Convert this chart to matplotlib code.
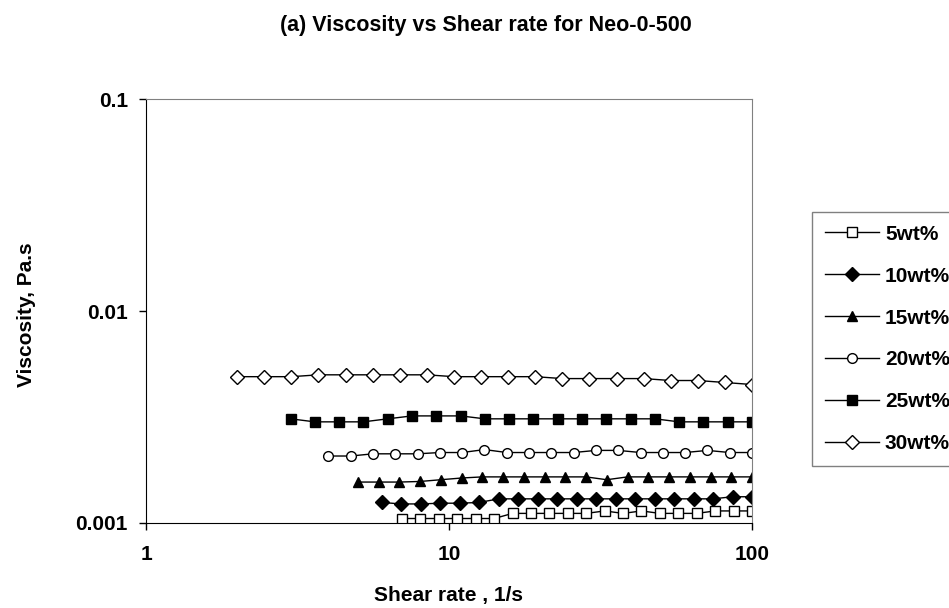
import matplotlib
matplotlib.use('Agg')
import matplotlib.pyplot as plt
import numpy as np

plt.rcParams['font.family'] = ['Liberation Sans', 'DejaVu Sans']
plt.rcParams['font.weight'] = 'bold'

labels = ['5wt%', '10wt%', '15wt%', '20wt%', '25wt%', '30wt%']
start_rate = [7, 6, 5, 4, 3, 2]

visc_5 = [0.00105, 0.00105, 0.00105, 0.00105, 0.00105, 0.00105, 0.00111, 0.00111, 0.00111, 0.00111,
          0.00111, 0.00114, 0.00111, 0.00114, 0.00111, 0.00111, 0.00111, 0.00114, 0.00114, 0.00114]
visc_10 = [0.00125, 0.00123, 0.00123, 0.00124, 0.00124, 0.00125, 0.0013, 0.0013, 0.0013, 0.0013,
           0.0013, 0.0013, 0.0013, 0.0013, 0.0013, 0.0013, 0.0013, 0.0013, 0.00133, 0.00133]
visc_15 = [0.00156, 0.00156, 0.00156, 0.00157, 0.0016, 0.00163, 0.00165, 0.00165, 0.00165, 0.00165,
           0.00165, 0.00165, 0.0016, 0.00165, 0.00165, 0.00165, 0.00165, 0.00165, 0.00165, 0.00165]
visc_20 = [0.00207, 0.00207, 0.00212, 0.00212, 0.00212, 0.00215, 0.00215, 0.00222, 0.00215, 0.00215,
           0.00215, 0.00215, 0.0022, 0.0022, 0.00215, 0.00215, 0.00215, 0.0022, 0.00215, 0.00215]
visc_25 = [0.0031, 0.003, 0.003, 0.003, 0.0031, 0.0032, 0.0032, 0.0032, 0.0031, 0.0031,
           0.0031, 0.0031, 0.0031, 0.0031, 0.0031, 0.0031, 0.003, 0.003, 0.003, 0.003]
visc_30 = [0.0049, 0.0049, 0.0049, 0.005, 0.005, 0.005, 0.005, 0.005, 0.0049, 0.0049,
           0.0049, 0.0049, 0.0048, 0.0048, 0.0048, 0.0048, 0.0047, 0.0047, 0.0046, 0.0045]
all_visc = [visc_5, visc_10, visc_15, visc_20, visc_25, visc_30]

markers = ['s', 'D', '^', 'o', 's', 'D']
filled = [False, True, True, False, True, False]

fig = plt.figure(figsize=(9.49, 6.08), dpi=100)
ax = fig.add_axes([146/949, 1-523/608, 606/949, 424/608])

for i in range(len(labels)):
    # shear rate points are log spaced from start to 100
    rates = np.logspace(np.log10(start_rate[i]), 2, len(all_visc[i]))
    ax.plot(rates, all_visc[i], color='black', lw=1.0, marker=markers[i], ms=7,
            mfc='black' if filled[i] else 'white', mec='black', mew=1.0, label=labels[i])

ax.set_xscale('log')
ax.set_yscale('log')
ax.set_xlim(1, 100)
ax.set_ylim(0.001, 0.1)
ax.set_xticks([1, 10, 100])
ax.set_xticklabels(['1', '10', '100'])
ax.set_yticks([0.001, 0.01, 0.1])
ax.set_yticklabels(['0.001', '0.01', '0.1'])
ax.minorticks_off()
ax.tick_params(labelsize=15, length=5, width=1, direction='out', pad=8)
ax.tick_params(axis='x', pad=11)
for sp in ['top', 'right']:
    ax.spines[sp].set_color('#808080')

fig.text(486/949, 1-25/608, '(a) Viscosity vs Shear rate for Neo-0-500', ha='center', va='center',
         fontsize=15.5, fontweight='bold')
fig.text(449/949, 1-596/608, 'Shear rate , 1/s', ha='center', va='center', fontsize=15, fontweight='bold')
fig.text(27/949, 1-315/608, 'Viscosity, Pa.s', ha='center', va='center', rotation=90,
         fontsize=15, fontweight='bold')

leg = ax.legend(loc='center left', bbox_to_anchor=(812/949, 1-339/608), bbox_transform=fig.transFigure,
                fontsize=15, frameon=True, fancybox=False, edgecolor='#808080', framealpha=1,
                handlelength=2.6, handletextpad=0.3, labelspacing=1.1, borderpad=0.6, borderaxespad=0)
leg.get_frame().set_linewidth(1.0)

plt.savefig('out.png', dpi=100)
